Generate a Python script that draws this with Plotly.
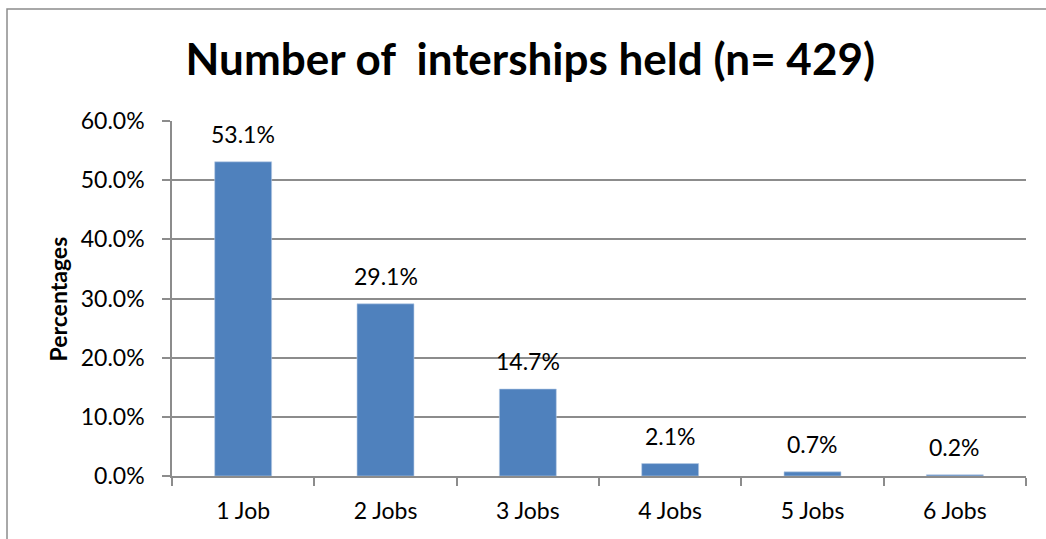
import plotly.graph_objects as go

# Share of respondents by number of internships held
categories = ["1 Job", "2 Jobs", "3 Jobs", "4 Jobs", "5 Jobs", "6 Jobs"]
percentages = [53.1, 29.1, 14.7, 2.1, 0.7, 0.2]
y_ticks = [0, 10, 20, 30, 40, 50, 60]

FONT = "Lato"
BAR_COLOR = "#4F81BD"
GRID_COLOR = "#8C8C8C"
TEXT_SIZE = 23

fig = go.Figure()
fig.add_trace(go.Bar(
    x=categories,
    y=percentages,
    marker=dict(color=BAR_COLOR, line=dict(color="#B9CDE5", width=0.6)),
    hoverinfo="skip",
))

# Value labels above each bar
for cat, val in zip(categories, percentages):
    fig.add_annotation(
        x=cat, y=val, xref="x", yref="y",
        text=f"{val:.1f}%", showarrow=False,
        yanchor="bottom", yshift=12,
        font=dict(family=FONT, size=TEXT_SIZE, color="#000000"),
    )

# Rotated y-axis caption
fig.add_annotation(
    x=-0.1335, y=0.5, xref="paper", yref="paper",
    text="<b>Percentages</b>", textangle=-90, showarrow=False,
    xanchor="center", yanchor="middle",
    font=dict(family=FONT, size=23, color="#000000"),
)

# Outer chart frame
fig.add_shape(
    type="rect", xref="paper", yref="paper",
    x0=-0.1932, y0=-0.4, x1=1.2, y1=1.3155,
    line=dict(color="#8C8C8C", width=1.5), fillcolor="rgba(0,0,0,0)",
    layer="below",
)

fig.update_layout(
    width=1046, height=539,
    margin=dict(l=172, r=20, t=121, b=63),
    paper_bgcolor="white", plot_bgcolor="white",
    bargap=0.6,
    showlegend=False,
    title=dict(
        text="<b>Number of  interships held (n= 429)</b>",
        x=0.507, xanchor="center", xref="container",
        y=1 - 60 / 539, yanchor="middle", yref="container",
        font=dict(family=FONT, size=44, color="#000000"),
    ),
    xaxis=dict(
        type="category",
        showline=True, linecolor=GRID_COLOR, linewidth=1.5,
        ticks="outside", tickson="boundaries", ticklen=8,
        tickcolor=GRID_COLOR, tickwidth=1.5,
        ticklabelstandoff=14,
        showgrid=False,
        tickfont=dict(family=FONT, size=TEXT_SIZE, color="#000000"),
    ),
    yaxis=dict(
        range=[0, 60],
        tickvals=y_ticks,
        ticktext=[f"{v:.1f}%" for v in y_ticks],
        showline=True, linecolor=GRID_COLOR, linewidth=1.5,
        ticks="outside", ticklen=8, tickcolor=GRID_COLOR, tickwidth=1.5,
        ticklabelstandoff=13,
        showgrid=True, gridcolor=GRID_COLOR, gridwidth=1.5,
        zeroline=False,
        tickfont=dict(family=FONT, size=TEXT_SIZE, color="#000000"),
    ),
)

fig.write_html("out.html")
